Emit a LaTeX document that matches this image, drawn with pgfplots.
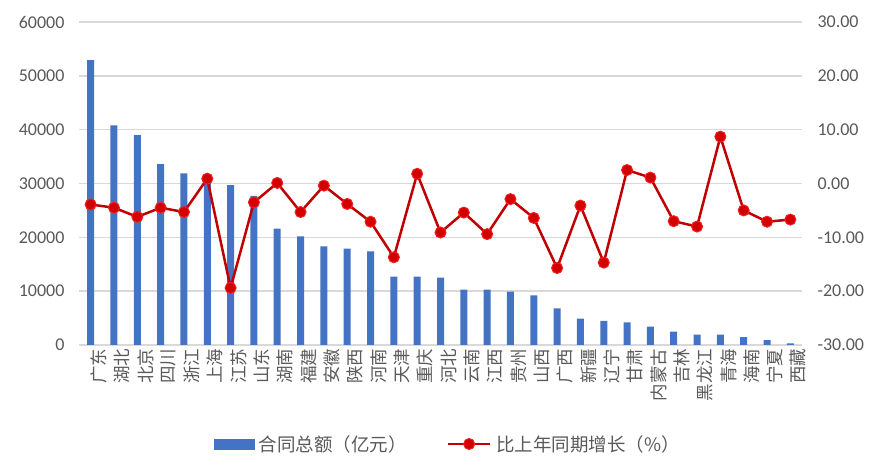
\documentclass[border=0pt]{standalone}
\usepackage{pgfplots}
\pgfplotsset{compat=1.18}
\usepackage{fontspec}
\setmainfont{Carlito}
\newfontfamily\cjk{Noto Sans CJK SC}
\definecolor{barblue}{RGB}{68,114,196}
\definecolor{linered}{RGB}{192,0,0}
\definecolor{markred}{RGB}{210,0,0}
\definecolor{ringred}{RGB}{245,30,30}
\definecolor{gridgray}{RGB}{217,217,217}
\definecolor{txtgray}{RGB}{89,89,89}

\pgfplotsset{
  base/.style={
    at={(79pt,129pt)}, anchor=south west,
    scale only axis, width=723pt, height=323pt,
    xmin=-0.5, xmax=30.5,
    major tick length=0pt,
    axis line style={draw=none},
    tick label style={text=txtgray},
    /pgf/number format/assume math mode=true,
  },
  linelegend/.style={
    legend image code/.code={\draw[mark repeat=2, mark phase=2, ##1] plot coordinates {(0pt,0pt) (21pt,0pt) (42pt,0pt)};
      \path (45pt,0pt);}
  },
  barlegend/.style={
    legend image code/.code={\fill[barblue] (0pt,-5pt) rectangle (40pt,5pt);
      \path (43pt,0pt);}
  },
}

\begin{document}
\begin{tikzpicture}
\useasboundingbox (0,0) rectangle (886pt,474pt);

\begin{axis}[base,
  ymin=0, ymax=60000, ytick={0,10000,...,60000},
  scaled y ticks=false,
  yticklabel style={/pgf/number format/1000 sep={}, font=\fontsize{18}{20}\selectfont, xshift=-11pt},
  ymajorgrids, major grid style={gridgray, line width=1.5pt},
  xtick=data,
  xticklabels={广东,湖北,北京,四川,浙江,上海,江苏,山东,湖南,福建,安徽,陕西,河南,天津,重庆,河北,云南,江西,贵州,山西,广西,新疆,辽宁,甘肃,内蒙古,吉林,黑龙江,青海,海南,宁夏,西藏},
  xticklabel style={rotate=90, anchor=east, font=\cjk\fontsize{17.5}{18}\selectfont, yshift=-8pt},
]
\addplot[ybar, bar width=7pt, fill=barblue, draw=none] coordinates {
(0,52900) (1,40800) (2,39000) (3,33600) (4,31900) (5,30400) (6,29700) (7,27700)
(8,21600) (9,20200) (10,18300) (11,17900) (12,17400) (13,12700) (14,12700) (15,12500)
(16,10300) (17,10300) (18,9900) (19,9200) (20,6800) (21,4900) (22,4500) (23,4200)
(24,3400) (25,2500) (26,1950) (27,1950) (28,1450) (29,900) (30,300)
};
\end{axis}

\begin{axis}[base,
  axis y line*=right, axis x line=none,
  ymin=-30, ymax=30, ytick={-30,-20,...,30},
  yticklabel style={/pgf/number format/.cd, fixed, fixed zerofill, precision=2, /tikz/.cd, font=\fontsize{18}{20}\selectfont, xshift=12pt},
  legend columns=2,
  legend style={at={(0.510,-0.3065)}, anchor=center, draw=none, fill=none,
    font=\cjk\fontsize{18.5}{19}\selectfont, text=txtgray,
    /tikz/every even column/.append style={column sep=38pt}},
]
\addlegendimage{barlegend}
\addlegendentry{合同总额（亿元）}
\addplot[linered, line width=2.5pt, mark=*, mark size=5.5pt,
  mark options={fill=markred, draw=ringred, line width=1pt}, linelegend]
coordinates {
(0,-3.9) (1,-4.5) (2,-6.2) (3,-4.5) (4,-5.3) (5,0.9) (6,-19.4) (7,-3.5)
(8,0.1) (9,-5.3) (10,-0.4) (11,-3.8) (12,-7.1) (13,-13.7) (14,1.8) (15,-9.1)
(16,-5.4) (17,-9.4) (18,-2.9) (19,-6.4) (20,-15.7) (21,-4.1) (22,-14.7) (23,2.5)
(24,1.1) (25,-7.0) (26,-8.0) (27,8.7) (28,-5.0) (29,-7.1) (30,-6.7)
};
\addlegendentry{比上年同期增长（\%）}
\end{axis}
\end{tikzpicture}
\end{document}
